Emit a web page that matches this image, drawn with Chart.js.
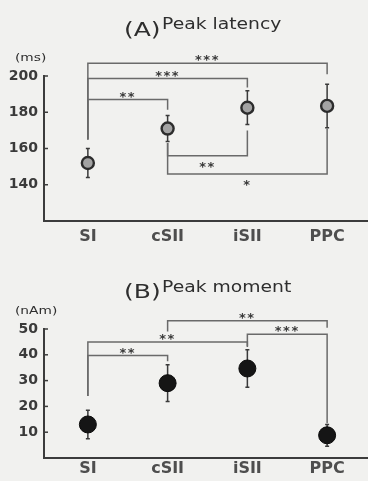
<!DOCTYPE html>
<html>
<head>
<meta charset="utf-8">
<script src="https://cdn.jsdelivr.net/npm/chart.js@4.4.1/dist/chart.umd.min.js"></script>
<style>
    body { margin: 0; background: #f1f1ef; }
    #wrap { position: relative; width: 368px; height: 481px; }
    canvas { position: absolute; left: 0; }
</style>
</head>
<body>
<div id="wrap">
    <canvas id="latencyChart" width="368" height="250" style="top:0"></canvas>
    <canvas id="momentChart" width="368" height="231" style="top:250px"></canvas>
</div>
<script>
const regions = ['SI', 'cSII', 'iSII', 'PPC'];

// Peak latency (ms): mean and error per region
const latencyMean = [152, 171, 182.5, 183.5];
const latencyErr = [8, 7.2, 9.3, 12];
const latencyTicks = [140, 160, 180, 200];

// Peak moment (nAm): mean and error per region
const momentMean = [13, 29, 34.7, 8.8];
const momentErr = [5.5, 7.1, 7.3, 4.2];
const momentTicks = [10, 20, 30, 40, 50];

// Significance brackets: [from, to, level, fromEnd, toEnd, stars]
const latencyBrackets = [
    [0, 3, 207, 165, 201, '***'],
    [0, 2, 198.6, 165, 193.6, '***'],
    [0, 1, 187, 165, 181.4, '**'],
    [1, 2, 156, 163, 170, '**'],
    [1, 3, 146, 163, 171, '*']
];
const momentBrackets = [
    [1, 3, 53.2, 49, 50.5, '**'],
    [2, 3, 48, 43.3, 13.5, '***'],
    [0, 2, 45, 24, 43, '**'],
    [0, 1, 39.7, 24, 37.5, '**']
];

// Error bars and significance brackets, drawn under the markers
const bracketPlugin = {
    id: 'brackets',
    beforeDatasetsDraw(chart, args, o) {
        const ctx = chart.ctx;
        const x = chart.scales.x, y = chart.scales.y;
        ctx.save();

        ctx.strokeStyle = '#3a3a3a';
        ctx.lineWidth = 1.5;
        o.mean.forEach((m, i) => {
            const px = x.getPixelForValue(i);
            const top = y.getPixelForValue(m + o.err[i]);
            const bot = y.getPixelForValue(m - o.err[i]);
            ctx.beginPath();
            ctx.moveTo(px, top); ctx.lineTo(px, bot);
            ctx.moveTo(px - 2, top); ctx.lineTo(px + 2, top);
            ctx.moveTo(px - 2, bot); ctx.lineTo(px + 2, bot);
            ctx.stroke();
        });

        ctx.strokeStyle = '#6a6a6a';
        ctx.lineWidth = 1.5;
        ctx.fillStyle = '#3a3a3a';
        ctx.font = 'bold 13px "DejaVu Sans"';
        ctx.textAlign = 'center';
        ctx.textBaseline = 'alphabetic';
        ctx.letterSpacing = '1.5px';
        o.list.forEach(([a, b, level, endA, endB, stars]) => {
            const xa = x.getPixelForValue(a), xb = x.getPixelForValue(b);
            const ly = y.getPixelForValue(level);
            ctx.beginPath();
            ctx.moveTo(xa, y.getPixelForValue(endA));
            ctx.lineTo(xa, ly);
            ctx.lineTo(xb, ly);
            ctx.lineTo(xb, y.getPixelForValue(endB));
            ctx.stroke();
            const below = level < endA;
            ctx.fillText(stars, (xa + xb) / 2, below ? ly + 15 : ly + 1);
        });
        ctx.restore();
    }
};

function stretchedText(ctx, text, x, y, font, sx) {
    ctx.save();
    ctx.font = font;
    ctx.translate(x, y);
    ctx.scale(sx, 1);
    ctx.fillText(text, 0, 0);
    ctx.restore();
}

// Panel title and unit label
const panelTextPlugin = {
    id: 'panelText',
    afterDraw(chart, args, o) {
        const ctx = chart.ctx;
        ctx.save();
        ctx.fillStyle = '#2e2e2e';
        ctx.textBaseline = 'alphabetic';
        stretchedText(ctx, o.tag, 124, o.tagBase, '20px "DejaVu Sans"', 1.25);
        stretchedText(ctx, o.name, 162, o.nameBase, '15px "DejaVu Sans"', 1.25);
        stretchedText(ctx, o.unit, 15, chart.chartArea.top - 15, '11px "DejaVu Sans"', 1.25);
        ctx.restore();
    }
};

function buildChart(id, cfg) {
    return new Chart(document.getElementById(id), {
        type: 'scatter',
        data: {
            datasets: [{
                data: cfg.mean.map((v, i) => ({ x: i, y: v })),
                pointRadius: cfg.radius,
                pointBackgroundColor: cfg.fill,
                pointBorderColor: cfg.stroke,
                pointBorderWidth: cfg.strokeWidth
            }]
        },
        options: {
            responsive: false,
            animation: false,
            layout: { autoPadding: false, padding: { top: cfg.top, right: 1, left: 0, bottom: 0 } },
            plugins: {
                legend: { display: false },
                tooltip: { enabled: false },
                brackets: { mean: cfg.mean, err: cfg.err, list: cfg.brackets },
                panelText: cfg.text
            },
            scales: {
                x: {
                    type: 'linear',
                    min: -0.55,
                    max: 3.5,
                    grid: { display: false, drawTicks: false },
                    border: { color: '#3c3c3c', width: 2 },
                    ticks: {
                        font: { family: 'DejaVu Sans', size: 16, weight: 'bold' },
                        color: '#4e4e4e',
                        padding: cfg.xPad,
                        autoSkip: false,
                        maxRotation: 0,
                        callback: v => regions[v] ?? ''
                    },
                    afterBuildTicks: a => { a.ticks = regions.map((r, i) => ({ value: i })); },
                    afterFit: a => {
                        a.height = cfg.xHeight;
                        a.paddingLeft = 0;
                        a.paddingRight = 0;
                    }
                },
                y: {
                    min: cfg.min,
                    max: cfg.max,
                    grid: { display: false, drawTicks: false },
                    border: { color: '#3c3c3c', width: 2 },
                    ticks: {
                        font: { family: 'DejaVu Sans', size: 14, weight: 'bold' },
                        color: '#3a3a3a',
                        padding: 6
                    },
                    afterBuildTicks: a => { a.ticks = cfg.ticks.map(v => ({ value: v })); },
                    afterFit: a => {
                        a.width = 44;
                        a.paddingTop = 0;
                        a.paddingBottom = 0;
                    }
                }
            }
        },
        plugins: [bracketPlugin, panelTextPlugin, {
            id: 'innerTicks',
            afterDraw(chart) {
                const ctx = chart.ctx, y = chart.scales.y, left = chart.chartArea.left;
                ctx.save();
                ctx.strokeStyle = '#3c3c3c';
                ctx.lineWidth = 1.5;
                y.ticks.forEach(t => {
                    const py = y.getPixelForValue(t.value);
                    ctx.beginPath();
                    ctx.moveTo(left, py);
                    ctx.lineTo(left + 4, py);
                    ctx.stroke();
                });
                ctx.restore();
            }
        }]
    });
}

buildChart('latencyChart', {
    mean: latencyMean, err: latencyErr, brackets: latencyBrackets, ticks: latencyTicks,
    min: 120, max: 200, top: 76, xHeight: 29, xPad: 6,
    radius: 6, fill: '#a3a3a3', stroke: '#2c2c2c', strokeWidth: 2.4,
    text: { tag: '(A)', tagBase: 36, name: 'Peak latency', nameBase: 29, unit: '(ms)' }
});

buildChart('momentChart', {
    mean: momentMean, err: momentErr, brackets: momentBrackets, ticks: momentTicks,
    min: 0, max: 50, top: 79, xHeight: 23, xPad: 1,
    radius: 8.5, fill: '#151515', stroke: '#0a0a0a', strokeWidth: 1,
    text: { tag: '(B)', tagBase: 48, name: 'Peak moment', nameBase: 42, unit: '(nAm)' }
});
</script>
</body>
</html>
